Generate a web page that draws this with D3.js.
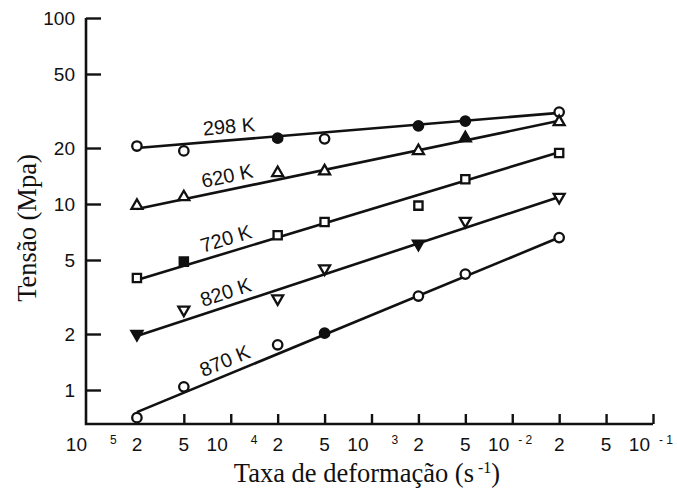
<!DOCTYPE html>
<html>
<head>
<meta charset="utf-8">
<script src="https://cdn.jsdelivr.net/npm/d3@7"></script>
<style>
  body { margin: 0; background: #fff; }
  .tick-label { font-family: "Liberation Sans", Arial, sans-serif; font-size: 19px; fill: #111; }
  .sup-label { font-family: "Liberation Sans", Arial, sans-serif; font-size: 12px; fill: #111; }
  .temp-label { font-family: "Liberation Sans", Arial, sans-serif; font-size: 20px; fill: #111; }
  .axis-title { font-family: "Liberation Serif", "Times New Roman", serif; font-size: 26.5px; fill: #111; }
</style>
</head>
<body>
<div class="chart"></div>
<script>
// Tensão x taxa de deformação, log-log, one line per temperature

var svgWidth = 678;
var svgHeight = 495;

// strain-rate ticks (the original figure spaces them evenly)
var rateTicks = ["1e-5", "2e-5", "5e-5", "1e-4", "2e-4", "5e-4", "1e-3", "2e-3", "5e-3", "1e-2", "2e-2", "5e-2", "1e-1"];
var rateBase = ["10", "2", "5", "10", "2", "5", "10", "2", "5", "10", "2", "5", "10"];
var rateSup = ["5", "", "", "4", "", "", "3", "", "", "- 2", "", "", "- 1"];

var stressTicks = [1, 2, 5, 10, 20, 50, 100];

// measured points
var temps = ["298 K", "620 K", "720 K", "820 K", "870 K"];
var rates = ["2e-5", "5e-5", "2e-4", "5e-4", "2e-3", "5e-3", "2e-2"];
var stress298 = [20.5, 19.3, 22.6, 22.4, 26.3, 27.9, 31.2];
var stress620 = [9.8, 10.9, 14.7, 15.0, 19.3, 22.6, 27.6];
var stress720 = [4.0, 4.9, 6.8, 8.0, 9.8, 13.6, 18.8];
var stress820 = [2.0, 2.7, 3.1, 4.5, 6.1, 8.1, 10.9];
var stress870 = [0.71, 1.04, 1.75, 2.02, 3.2, 4.2, 6.6];

// 1 = filled marker, 0 = open marker
var filled298 = [0, 0, 1, 0, 1, 1, 0];
var filled620 = [0, 0, 0, 0, 0, 1, 0];
var filled720 = [0, 1, 0, 0, 0, 0, 0];
var filled820 = [1, 0, 0, 0, 1, 0, 0];
var filled870 = [0, 0, 0, 1, 0, 0, 0];

var markerShapes = ["circle", "triangle", "square", "triangleDown", "circle"];

// fitted straight lines, stress at 2e-5 and at 2e-2
var fitStart = [20.0, 9.4, 3.9, 1.95, 0.76];
var fitEnd = [30.9, 28.0, 19.0, 10.9, 6.6];

var allStress = [stress298, stress620, stress720, stress820, stress870];
var allFilled = [filled298, filled620, filled720, filled820, filled870];

var svg = d3.select(".chart")
  .append("svg")
  .attr("width", svgWidth)
  .attr("height", svgHeight);

var axisX0 = 86;
var axisY0 = 424;

var xScale = d3.scalePoint()
  .domain(rateTicks)
  .range([90, 653]);

var yScale = d3.scaleLog()
  .domain([1, 100])
  .range([390, 18]);

// x axis, ticks pointing up
var xAxis = svg.append("g")
  .attr("transform", `translate(0, ${axisY0})`)
  .call(d3.axisBottom(xScale).tickSize(-10).tickSizeOuter(0).tickFormat(""));
xAxis.select(".domain").remove();
xAxis.selectAll(".tick").filter((d, i) => i === 0).remove();
xAxis.selectAll(".tick line").attr("stroke", "#111").attr("stroke-width", 2.4);

// y axis, ticks pointing right
var yAxis = svg.append("g")
  .attr("transform", `translate(${axisX0}, 0)`)
  .call(d3.axisLeft(yScale).tickValues(stressTicks).tickSize(-15).tickSizeOuter(0).tickFormat(""));
yAxis.select(".domain").remove();
yAxis.selectAll(".tick line").attr("stroke", "#111").attr("stroke-width", 2.4);

// axis spines
svg.append("path")
  .attr("d", `M${axisX0},${yScale(100)} V${axisY0} H${xScale("1e-1")}`)
  .attr("fill", "none")
  .attr("stroke", "#111")
  .attr("stroke-width", 2.6);

// y tick labels
svg.selectAll(".ylab")
  .data(stressTicks)
  .enter()
  .append("text")
  .attr("class", "tick-label")
  .attr("x", axisX0 - 11)
  .attr("y", d => yScale(d))
  .attr("dy", "0.36em")
  .attr("text-anchor", "end")
  .text(d => d);

// x tick labels: powers of ten get the "10" left of the tick and a raised exponent
svg.selectAll(".xlab")
  .data(rateTicks)
  .enter()
  .append("text")
  .attr("class", "tick-label")
  .attr("x", (d, i) => rateSup[i] ? xScale(d) - 3 : xScale(d))
  .attr("y", 451)
  .attr("text-anchor", (d, i) => rateSup[i] ? "end" : "middle")
  .text((d, i) => rateBase[i]);

svg.selectAll(".xsup")
  .data(rateTicks)
  .enter()
  .append("text")
  .attr("class", "sup-label")
  .attr("x", (d, i) => xScale(d) + (rateSup[i].charAt(0) === "-" ? 6 : 20))
  .attr("y", 444)
  .text((d, i) => rateSup[i]);

// fitted lines
temps.forEach(function(t, k) {
  svg.append("line")
    .attr("x1", xScale(rates[0]))
    .attr("y1", yScale(fitStart[k]))
    .attr("x2", xScale(rates[rates.length - 1]))
    .attr("y2", yScale(fitEnd[k]))
    .attr("stroke", "#111")
    .attr("stroke-width", 2.6);
});

// markers
var symbolFor = {
  circle: d3.symbol().type(d3.symbolCircle).size(70),
  triangle: d3.symbol().type(d3.symbolTriangle).size(52),
  triangleDown: d3.symbol().type(d3.symbolTriangle).size(52),
  square: d3.symbol().type(d3.symbolSquare).size(68)
};

temps.forEach(function(t, k) {
  var shape = markerShapes[k];
  svg.selectAll(".pt" + k)
    .data(rates)
    .enter()
    .append("path")
    .attr("d", symbolFor[shape]())
    .attr("transform", (d, i) => `translate(${xScale(d)}, ${yScale(allStress[k][i])})` +
      (shape === "triangleDown" ? " rotate(180)" : ""))
    .attr("fill", (d, i) => allFilled[k][i] ? "#111" : "#fff")
    .attr("stroke", "#111")
    .attr("stroke-width", 2.3);
});

// temperature labels, rotated along each line
temps.forEach(function(t, k) {
  var x1 = xScale(rates[0]), y1 = yScale(fitStart[k]);
  var x2 = xScale(rates[rates.length - 1]), y2 = yScale(fitEnd[k]);
  var angle = Math.atan2(y2 - y1, x2 - x1) * 180 / Math.PI;
  var px = 230;
  var py = y1 + (px - x1) / (x2 - x1) * (y2 - y1);
  svg.append("text")
    .attr("class", "temp-label")
    .attr("transform", `translate(${px}, ${py}) rotate(${angle})`)
    .attr("y", -7)
    .attr("text-anchor", "middle")
    .text(t);
});

// axis titles
var xTitle = svg.append("text")
  .attr("class", "axis-title")
  .attr("x", 367)
  .attr("y", 482)
  .attr("text-anchor", "middle");
xTitle.append("tspan").text("Taxa de deformação (s");
xTitle.append("tspan").attr("dx", 4).attr("dy", -9).style("font-size", "16px").text("-1");
xTitle.append("tspan").attr("dy", 9).text(")");

svg.append("text")
  .attr("class", "axis-title")
  .attr("transform", "rotate(-90)")
  .attr("x", -228)
  .attr("y", 36)
  .attr("text-anchor", "middle")
  .text("Tensão (Mpa)");
</script>
</body>
</html>
